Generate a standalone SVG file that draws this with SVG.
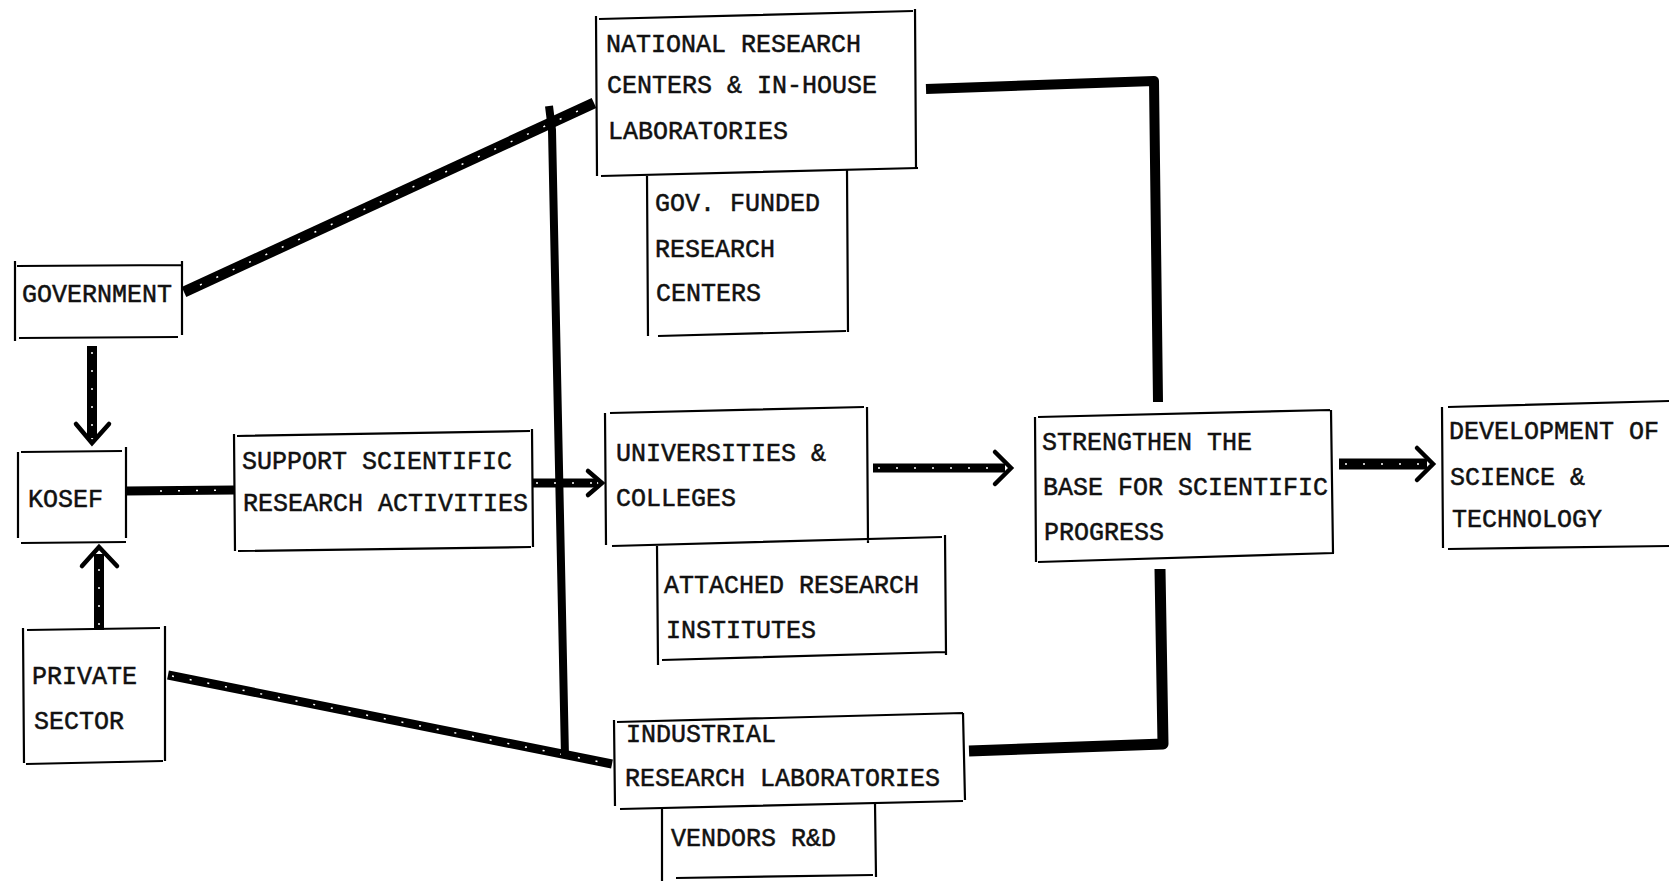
<svg xmlns="http://www.w3.org/2000/svg" width="1669" height="881" viewBox="0 0 1669 881">
  <defs>
    <style>
      .frame { fill: none; stroke: #000; stroke-width: 2.2; stroke-linecap: butt; }
      .lbl { font-family: "Liberation Mono", "DejaVu Sans Mono", monospace; font-size: 25px; fill: #111; stroke: #111; stroke-width: 0.5; }
      .bar { fill: none; stroke: #000; stroke-linecap: butt; stroke-linejoin: round; }
      .speck { fill: none; stroke: #fff; stroke-width: 1.5; stroke-dasharray: 2 16; }
      .head { fill: none; stroke: #000; stroke-width: 4.5; stroke-linecap: round; stroke-linejoin: miter; }
    </style>
  </defs>
  <rect width="1669" height="881" fill="#fff"/>

  <!-- connectors -->
  <g id="connectors">
    <!-- government to national research centers -->
    <line class="bar" x1="184" y1="292" x2="594" y2="103" stroke-width="11"/>
    <line class="speck" x1="200" y1="285" x2="580" y2="110"/>
    <!-- private sector to industrial research -->
    <line class="bar" x1="168" y1="675" x2="612" y2="764" stroke-width="9"/>
    <line class="speck" x1="172" y1="676" x2="600" y2="762"/>
    <!-- vertical trunk joining both lines -->
    <path class="bar" d="M549 106 L552 130 L565 757" stroke-width="8"/>
    <!-- kosef to support -->
    <line class="bar" x1="126" y1="491" x2="234" y2="490" stroke-width="9"/>
    <line class="speck" x1="160" y1="491" x2="230" y2="490"/>
    <!-- government down to kosef -->
    <line class="bar" x1="92" y1="346" x2="92" y2="438" stroke-width="10"/>
    <line class="speck" x1="92" y1="352" x2="92" y2="430"/>
    <polyline class="head" points="76,424 92,443 109,424"/>
    <!-- private sector up to kosef -->
    <line class="bar" x1="99" y1="630" x2="99" y2="554" stroke-width="10"/>
    <line class="speck" x1="99" y1="625" x2="99" y2="560"/>
    <polyline class="head" points="82,566 99,547 117,566"/>
    <!-- support to universities -->
    <line class="bar" x1="532" y1="483" x2="597" y2="483" stroke-width="9"/>
    <line class="speck" x1="536" y1="483" x2="594" y2="483"/>
    <polyline class="head" points="588,471 602,483 588,495"/>
    <!-- universities to strengthen -->
    <line class="bar" x1="873" y1="468" x2="1005" y2="468" stroke-width="9"/>
    <line class="speck" x1="878" y1="468" x2="1000" y2="468" stroke-dasharray="4 5"/>
    <polyline class="head" points="995,452 1011,468 995,484"/>
    <!-- strengthen to development -->
    <line class="bar" x1="1339" y1="464" x2="1427" y2="464" stroke-width="11"/>
    <line class="speck" x1="1345" y1="464" x2="1420" y2="464"/>
    <polyline class="head" points="1417,448 1433,464 1417,480"/>
    <!-- national research centers to strengthen (top) -->
    <path class="bar" d="M926 89 L1154 81 L1158 402" stroke-width="10"/>
    <!-- industrial research to strengthen (bottom) -->
    <path class="bar" d="M1160 569 L1163 744 L969 751" stroke-width="11"/>
  </g>

  <!-- nodes -->
  <g id="government">
    <path class="frame" d="M15 261 L15 341 M17 266 L181 265 M182 261 L182 335 M19 338 L178 337"/>
    <text class="lbl" x="22" y="302">GOVERNMENT</text>
  </g>

  <g id="kosef">
    <path class="frame" d="M18 452 L18 538 M21 452 L122 451 M126 447 L126 538 M21 543 L126 542"/>
    <text class="lbl" x="28" y="507">KOSEF</text>
  </g>

  <g id="private-sector">
    <path class="frame" d="M23 628 L24 763 M27 630 L160 628 M165 626 L165 761 M26 764 L163 761"/>
    <text class="lbl" x="32" y="684">PRIVATE</text>
    <text class="lbl" x="34" y="729">SECTOR</text>
  </g>

  <g id="support">
    <path class="frame" d="M234 434 L235 551 M237 436 L530 431 M532 429 L533 547 M238 551 L531 547"/>
    <text class="lbl" x="242" y="469">SUPPORT SCIENTIFIC</text>
    <text class="lbl" x="243" y="511">RESEARCH ACTIVITIES</text>
  </g>

  <g id="national-research">
    <path class="frame" d="M596 16 L597 176 M599 19 L913 11 M915 9 L916 168 M601 176 L918 168"/>
    <text class="lbl" x="606" y="52">NATIONAL RESEARCH</text>
    <text class="lbl" x="607" y="93">CENTERS &amp; IN-HOUSE</text>
    <text class="lbl" x="608" y="139">LABORATORIES</text>
  </g>

  <g id="gov-funded">
    <path class="frame" d="M647 176 L648 336 M847 170 L848 332 M658 336 L846 331"/>
    <text class="lbl" x="655" y="211">GOV. FUNDED</text>
    <text class="lbl" x="655" y="257">RESEARCH</text>
    <text class="lbl" x="656" y="301">CENTERS</text>
  </g>

  <g id="universities">
    <path class="frame" d="M605 413 L606 545 M610 413 L864 407 M867 407 L868 543 M612 546 L942 537"/>
    <text class="lbl" x="616" y="461">UNIVERSITIES &amp;</text>
    <text class="lbl" x="616" y="506">COLLEGES</text>
  </g>

  <g id="attached-institutes">
    <path class="frame" d="M657 546 L658 665 M945 535 L946 655 M662 660 L945 652"/>
    <text class="lbl" x="664" y="593">ATTACHED RESEARCH</text>
    <text class="lbl" x="666" y="638">INSTITUTES</text>
  </g>

  <g id="industrial-research">
    <path class="frame" d="M614 720 L615 806 M617 722 L963 713 M963 713 L965 800 M620 809 L963 801"/>
    <text class="lbl" x="626" y="742">INDUSTRIAL</text>
    <text class="lbl" x="625" y="786">RESEARCH LABORATORIES</text>
  </g>

  <g id="vendors">
    <path class="frame" d="M662 809 L662 881 M875 803 L876 877 M676 878 L873 875"/>
    <text class="lbl" x="671" y="846">VENDORS R&amp;D</text>
  </g>

  <g id="strengthen">
    <path class="frame" d="M1035 417 L1036 562 M1038 417 L1330 410 M1331 410 L1333 553 M1038 562 L1334 553"/>
    <text class="lbl" x="1042" y="450">STRENGTHEN THE</text>
    <text class="lbl" x="1043" y="495">BASE FOR SCIENTIFIC</text>
    <text class="lbl" x="1044" y="540">PROGRESS</text>
  </g>

  <g id="development">
    <path class="frame" d="M1442 407 L1443 548 M1448 407 L1669 401 M1448 549 L1669 546"/>
    <text class="lbl" x="1449" y="439">DEVELOPMENT OF</text>
    <text class="lbl" x="1450" y="485">SCIENCE &amp;</text>
    <text class="lbl" x="1452" y="527">TECHNOLOGY</text>
  </g>
</svg>
